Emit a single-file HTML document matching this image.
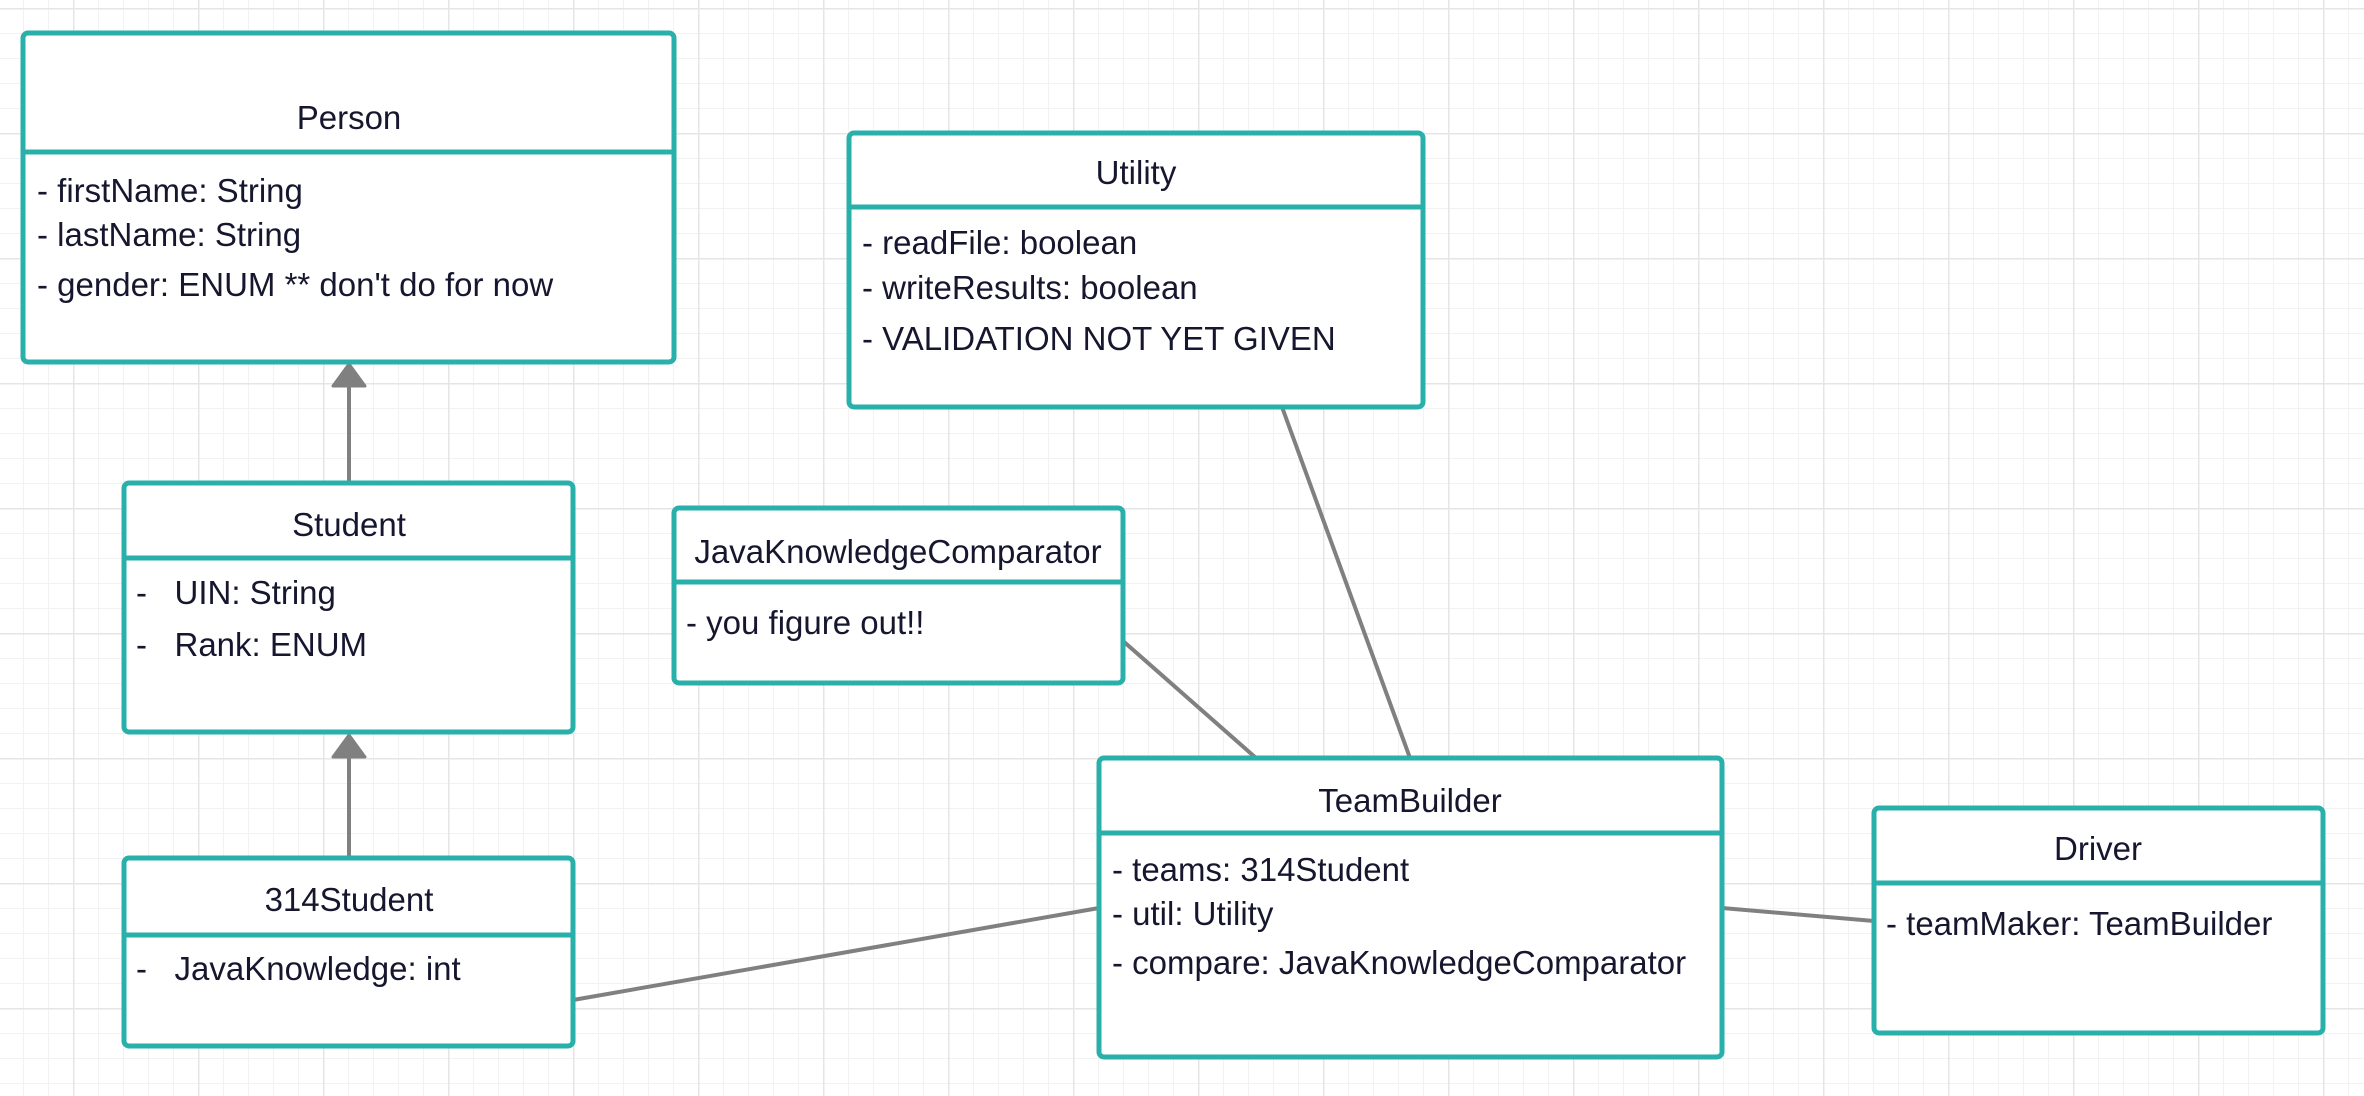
<!DOCTYPE html>
<html><head><meta charset="utf-8"><style>
html,body{margin:0;padding:0;background:#fff;}
svg{display:block;}
text{font-family:"Liberation Sans",sans-serif;font-size:33px;fill:#16162e;}
.t{text-anchor:middle;}
</style></head><body>
<svg width="2364" height="1096" viewBox="0 0 2364 1096" xmlns="http://www.w3.org/2000/svg">
<defs>
<pattern id="minor" width="25" height="25" patternUnits="userSpaceOnUse" x="73" y="8">
<path d="M0 0H25M0 0V25" stroke="#f2f2f2" stroke-width="2" fill="none"/>
</pattern>
<pattern id="major" width="125" height="125" patternUnits="userSpaceOnUse" x="73" y="8">
<path d="M0 0H125M0 0V125" stroke="#e5e5e5" stroke-width="3" fill="none"/>
</pattern>
</defs>
<rect width="2364" height="1096" fill="#fff"/>
<rect width="2364" height="1096" fill="url(#minor)"/>
<rect width="2364" height="1096" fill="url(#major)"/>

<g stroke="#808080" stroke-width="4" fill="none">
<line x1="349" y1="482" x2="349" y2="380"/>
<line x1="349" y1="858" x2="349" y2="752"/>
<line x1="1282" y1="407" x2="1410" y2="758"/>
<line x1="1123" y1="641" x2="1256" y2="758"/>
<line x1="573" y1="1000" x2="1099" y2="908"/>
<line x1="1722" y1="908" x2="1874" y2="921"/>
</g>
<g fill="#808080" stroke="#808080" stroke-width="3" stroke-linejoin="round">
<polygon points="349,364 333,386 365,386"/>
<polygon points="349,735 333,757 365,757"/>
</g>

<g fill="#fff" stroke="#2ab0ab" stroke-width="5">
<rect x="23" y="33" width="651" height="329" rx="5"/>
<line x1="23" y1="152" x2="674" y2="152"/>
<rect x="849" y="133" width="574" height="274" rx="5"/>
<line x1="849" y1="207" x2="1423" y2="207"/>
<rect x="124" y="483" width="449" height="249" rx="5"/>
<line x1="124" y1="558" x2="573" y2="558"/>
<rect x="674" y="508" width="449" height="175" rx="5"/>
<line x1="674" y1="582" x2="1123" y2="582"/>
<rect x="124" y="858" width="449" height="188" rx="5"/>
<line x1="124" y1="935" x2="573" y2="935"/>
<rect x="1099" y="758" width="623" height="299" rx="5"/>
<line x1="1099" y1="833" x2="1722" y2="833"/>
<rect x="1874" y="808" width="449" height="225" rx="5"/>
<line x1="1874" y1="883" x2="2323" y2="883"/>
</g>

<text class="t" x="349" y="129">Person</text>
<text x="37" y="202">- firstName: String</text>
<text x="37" y="246">- lastName: String</text>
<text x="37" y="296">- gender: ENUM ** don't do for now</text>

<text class="t" x="1136" y="184">Utility</text>
<text x="862" y="254">- readFile: boolean</text>
<text x="862" y="299">- writeResults: boolean</text>
<text x="862" y="350">- VALIDATION NOT YET GIVEN</text>

<text class="t" x="349" y="536">Student</text>
<text x="136" y="604">-&#160;&#160; UIN: String</text>
<text x="136" y="656">-&#160;&#160; Rank: ENUM</text>

<text class="t" x="898" y="563">JavaKnowledgeComparator</text>
<text x="686" y="634">- you figure out!!</text>

<text class="t" x="349" y="911">314Student</text>
<text x="136" y="980">-&#160;&#160; JavaKnowledge: int</text>

<text class="t" x="1410" y="812">TeamBuilder</text>
<text x="1112" y="881">- teams: 314Student</text>
<text x="1112" y="925">- util: Utility</text>
<text x="1112" y="974">- compare: JavaKnowledgeComparator</text>

<text class="t" x="2098" y="860">Driver</text>
<text x="1886" y="935">- teamMaker: TeamBuilder</text>
</svg>
</body></html>
